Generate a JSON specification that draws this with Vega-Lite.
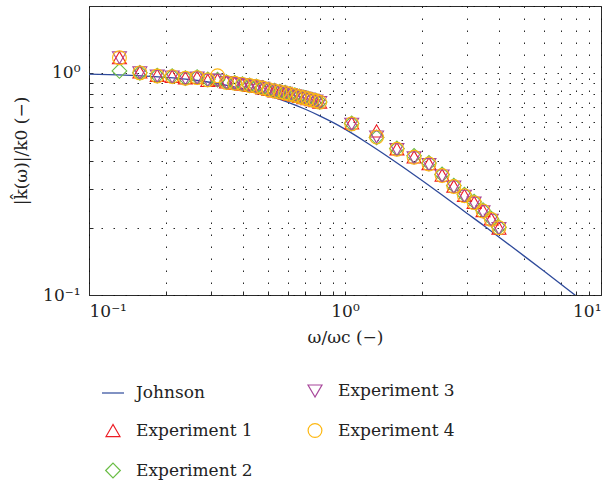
{
  "$schema": "https://vega.github.io/schema/vega-lite/v6.json",
  "width": 512,
  "height": 289,
  "autosize": {"type": "none"},
  "padding": {"left": 89, "top": 6, "right": 15, "bottom": 190},
  "background": "white",
  "config": {
    "view": {"stroke": "#2b2b2b", "strokeWidth": 1},
    "font": "DejaVu Serif",
    "axis": {
      "labelFont": "DejaVu Serif",
      "labelFontSize": 17,
      "labelColor": "#222",
      "titleFont": "DejaVu Serif",
      "titleFontSize": 17,
      "titleFontWeight": "normal",
      "titleColor": "#222",
      "grid": true,
      "gridColor": "#111",
      "gridDash": [1.5, 10.5],
      "gridWidth": 1,
      "gridOpacity": 0.9,
      "domain": false,
      "ticks": true,
      "tickSize": -4,
      "tickColor": "#2b2b2b",
      "tickWidth": 1,
      "labelOverlap": false,
      "labelBound": false
    },
    "legend": {
      "labelFont": "DejaVu Serif",
      "labelFontSize": 17,
      "labelColor": "#222"
    }
  },
  "datasets": {
    "johnson": [
      {"w": 0.1, "k": 0.988, "s": "Johnson"},
      {"w": 0.13, "k": 0.98, "s": "Johnson"},
      {"w": 0.16, "k": 0.97, "s": "Johnson"},
      {"w": 0.2, "k": 0.954, "s": "Johnson"},
      {"w": 0.25, "k": 0.931, "s": "Johnson"},
      {"w": 0.3, "k": 0.905, "s": "Johnson"},
      {"w": 0.35, "k": 0.877, "s": "Johnson"},
      {"w": 0.4, "k": 0.849, "s": "Johnson"},
      {"w": 0.5, "k": 0.792, "s": "Johnson"},
      {"w": 0.6, "k": 0.737, "s": "Johnson"},
      {"w": 0.7, "k": 0.686, "s": "Johnson"},
      {"w": 0.8, "k": 0.639, "s": "Johnson"},
      {"w": 0.9, "k": 0.597, "s": "Johnson"},
      {"w": 1.0, "k": 0.558, "s": "Johnson"},
      {"w": 1.2, "k": 0.49, "s": "Johnson"},
      {"w": 1.4, "k": 0.436, "s": "Johnson"},
      {"w": 1.7, "k": 0.374, "s": "Johnson"},
      {"w": 2.0, "k": 0.328, "s": "Johnson"},
      {"w": 2.5, "k": 0.272, "s": "Johnson"},
      {"w": 3.0, "k": 0.233, "s": "Johnson"},
      {"w": 3.5, "k": 0.2045, "s": "Johnson"},
      {"w": 4.0, "k": 0.182, "s": "Johnson"},
      {"w": 5.0, "k": 0.15, "s": "Johnson"},
      {"w": 6.0, "k": 0.1278, "s": "Johnson"},
      {"w": 7.0, "k": 0.1115, "s": "Johnson"},
      {"w": 8.0, "k": 0.099, "s": "Johnson"}
    ],
    "exp": [
      {"w": 0.1315, "k": 1.17, "s": "Experiment 1"},
      {"w": 0.158, "k": 1.01, "s": "Experiment 1"},
      {"w": 0.1847, "k": 0.975, "s": "Experiment 1"},
      {"w": 0.2113, "k": 0.965, "s": "Experiment 1"},
      {"w": 0.238, "k": 0.95, "s": "Experiment 1"},
      {"w": 0.2645, "k": 0.955, "s": "Experiment 1"},
      {"w": 0.291, "k": 0.925, "s": "Experiment 1"},
      {"w": 0.3177, "k": 0.93, "s": "Experiment 1"},
      {"w": 0.3443, "k": 0.91, "s": "Experiment 1"},
      {"w": 0.371, "k": 0.9, "s": "Experiment 1"},
      {"w": 0.3975, "k": 0.89, "s": "Experiment 1"},
      {"w": 0.424, "k": 0.879, "s": "Experiment 1"},
      {"w": 0.4507, "k": 0.869, "s": "Experiment 1"},
      {"w": 0.4773, "k": 0.856, "s": "Experiment 1"},
      {"w": 0.504, "k": 0.842, "s": "Experiment 1"},
      {"w": 0.5305, "k": 0.83, "s": "Experiment 1"},
      {"w": 0.557, "k": 0.822, "s": "Experiment 1"},
      {"w": 0.5837, "k": 0.813, "s": "Experiment 1"},
      {"w": 0.6103, "k": 0.803, "s": "Experiment 1"},
      {"w": 0.637, "k": 0.793, "s": "Experiment 1"},
      {"w": 0.6635, "k": 0.783, "s": "Experiment 1"},
      {"w": 0.69, "k": 0.774, "s": "Experiment 1"},
      {"w": 0.7167, "k": 0.766, "s": "Experiment 1"},
      {"w": 0.7433, "k": 0.757, "s": "Experiment 1"},
      {"w": 0.77, "k": 0.75, "s": "Experiment 1"},
      {"w": 0.7965, "k": 0.739, "s": "Experiment 1"},
      {"w": 1.062, "k": 0.595, "s": "Experiment 1"},
      {"w": 1.3285, "k": 0.548, "s": "Experiment 1"},
      {"w": 1.595, "k": 0.455, "s": "Experiment 1"},
      {"w": 1.8615, "k": 0.418, "s": "Experiment 1"},
      {"w": 2.128, "k": 0.39, "s": "Experiment 1"},
      {"w": 2.3945, "k": 0.346, "s": "Experiment 1"},
      {"w": 2.661, "k": 0.309, "s": "Experiment 1"},
      {"w": 2.9275, "k": 0.281, "s": "Experiment 1"},
      {"w": 3.194, "k": 0.261, "s": "Experiment 1"},
      {"w": 3.4605, "k": 0.24, "s": "Experiment 1"},
      {"w": 3.727, "k": 0.22, "s": "Experiment 1"},
      {"w": 3.9935, "k": 0.2, "s": "Experiment 1"},
      {"w": 0.1315, "k": 1.02, "s": "Experiment 2"},
      {"w": 0.158, "k": 1.0, "s": "Experiment 2"},
      {"w": 0.1847, "k": 0.972, "s": "Experiment 2"},
      {"w": 0.2113, "k": 0.966, "s": "Experiment 2"},
      {"w": 0.238, "k": 0.948, "s": "Experiment 2"},
      {"w": 0.2645, "k": 0.958, "s": "Experiment 2"},
      {"w": 0.291, "k": 0.935, "s": "Experiment 2"},
      {"w": 0.3177, "k": 0.932, "s": "Experiment 2"},
      {"w": 0.3443, "k": 0.908, "s": "Experiment 2"},
      {"w": 0.371, "k": 0.901, "s": "Experiment 2"},
      {"w": 0.3975, "k": 0.89, "s": "Experiment 2"},
      {"w": 0.424, "k": 0.879, "s": "Experiment 2"},
      {"w": 0.4507, "k": 0.87, "s": "Experiment 2"},
      {"w": 0.4773, "k": 0.857, "s": "Experiment 2"},
      {"w": 0.504, "k": 0.842, "s": "Experiment 2"},
      {"w": 0.5305, "k": 0.831, "s": "Experiment 2"},
      {"w": 0.557, "k": 0.823, "s": "Experiment 2"},
      {"w": 0.5837, "k": 0.814, "s": "Experiment 2"},
      {"w": 0.6103, "k": 0.804, "s": "Experiment 2"},
      {"w": 0.637, "k": 0.794, "s": "Experiment 2"},
      {"w": 0.6635, "k": 0.784, "s": "Experiment 2"},
      {"w": 0.69, "k": 0.775, "s": "Experiment 2"},
      {"w": 0.7167, "k": 0.767, "s": "Experiment 2"},
      {"w": 0.7433, "k": 0.758, "s": "Experiment 2"},
      {"w": 0.77, "k": 0.75, "s": "Experiment 2"},
      {"w": 0.7965, "k": 0.74, "s": "Experiment 2"},
      {"w": 1.062, "k": 0.592, "s": "Experiment 2"},
      {"w": 1.3285, "k": 0.512, "s": "Experiment 2"},
      {"w": 1.595, "k": 0.457, "s": "Experiment 2"},
      {"w": 1.8615, "k": 0.423, "s": "Experiment 2"},
      {"w": 2.128, "k": 0.393, "s": "Experiment 2"},
      {"w": 2.3945, "k": 0.349, "s": "Experiment 2"},
      {"w": 2.661, "k": 0.311, "s": "Experiment 2"},
      {"w": 2.9275, "k": 0.283, "s": "Experiment 2"},
      {"w": 3.194, "k": 0.263, "s": "Experiment 2"},
      {"w": 3.4605, "k": 0.241, "s": "Experiment 2"},
      {"w": 3.727, "k": 0.221, "s": "Experiment 2"},
      {"w": 3.9935, "k": 0.202, "s": "Experiment 2"},
      {"w": 0.1315, "k": 1.17, "s": "Experiment 3"},
      {"w": 0.158, "k": 1.0, "s": "Experiment 3"},
      {"w": 0.1847, "k": 0.966, "s": "Experiment 3"},
      {"w": 0.2113, "k": 0.958, "s": "Experiment 3"},
      {"w": 0.238, "k": 0.94, "s": "Experiment 3"},
      {"w": 0.2645, "k": 0.948, "s": "Experiment 3"},
      {"w": 0.291, "k": 0.927, "s": "Experiment 3"},
      {"w": 0.3177, "k": 0.926, "s": "Experiment 3"},
      {"w": 0.3443, "k": 0.903, "s": "Experiment 3"},
      {"w": 0.371, "k": 0.895, "s": "Experiment 3"},
      {"w": 0.3975, "k": 0.885, "s": "Experiment 3"},
      {"w": 0.424, "k": 0.874, "s": "Experiment 3"},
      {"w": 0.4507, "k": 0.865, "s": "Experiment 3"},
      {"w": 0.4773, "k": 0.852, "s": "Experiment 3"},
      {"w": 0.504, "k": 0.837, "s": "Experiment 3"},
      {"w": 0.5305, "k": 0.826, "s": "Experiment 3"},
      {"w": 0.557, "k": 0.818, "s": "Experiment 3"},
      {"w": 0.5837, "k": 0.809, "s": "Experiment 3"},
      {"w": 0.6103, "k": 0.799, "s": "Experiment 3"},
      {"w": 0.637, "k": 0.789, "s": "Experiment 3"},
      {"w": 0.6635, "k": 0.779, "s": "Experiment 3"},
      {"w": 0.69, "k": 0.77, "s": "Experiment 3"},
      {"w": 0.7167, "k": 0.762, "s": "Experiment 3"},
      {"w": 0.7433, "k": 0.753, "s": "Experiment 3"},
      {"w": 0.77, "k": 0.746, "s": "Experiment 3"},
      {"w": 0.7965, "k": 0.735, "s": "Experiment 3"},
      {"w": 1.062, "k": 0.587, "s": "Experiment 3"},
      {"w": 1.3285, "k": 0.514, "s": "Experiment 3"},
      {"w": 1.595, "k": 0.451, "s": "Experiment 3"},
      {"w": 1.8615, "k": 0.414, "s": "Experiment 3"},
      {"w": 2.128, "k": 0.386, "s": "Experiment 3"},
      {"w": 2.3945, "k": 0.343, "s": "Experiment 3"},
      {"w": 2.661, "k": 0.306, "s": "Experiment 3"},
      {"w": 2.9275, "k": 0.278, "s": "Experiment 3"},
      {"w": 3.194, "k": 0.259, "s": "Experiment 3"},
      {"w": 3.4605, "k": 0.237, "s": "Experiment 3"},
      {"w": 3.727, "k": 0.217, "s": "Experiment 3"},
      {"w": 3.9935, "k": 0.199, "s": "Experiment 3"},
      {"w": 0.1315, "k": 1.17, "s": "Experiment 4"},
      {"w": 0.158, "k": 1.0, "s": "Experiment 4"},
      {"w": 0.1847, "k": 0.968, "s": "Experiment 4"},
      {"w": 0.2113, "k": 0.962, "s": "Experiment 4"},
      {"w": 0.238, "k": 0.946, "s": "Experiment 4"},
      {"w": 0.2645, "k": 0.952, "s": "Experiment 4"},
      {"w": 0.291, "k": 0.93, "s": "Experiment 4"},
      {"w": 0.3177, "k": 0.97, "s": "Experiment 4"},
      {"w": 0.3443, "k": 0.906, "s": "Experiment 4"},
      {"w": 0.371, "k": 0.898, "s": "Experiment 4"},
      {"w": 0.3975, "k": 0.888, "s": "Experiment 4"},
      {"w": 0.424, "k": 0.877, "s": "Experiment 4"},
      {"w": 0.4507, "k": 0.868, "s": "Experiment 4"},
      {"w": 0.4773, "k": 0.855, "s": "Experiment 4"},
      {"w": 0.504, "k": 0.84, "s": "Experiment 4"},
      {"w": 0.5305, "k": 0.829, "s": "Experiment 4"},
      {"w": 0.557, "k": 0.821, "s": "Experiment 4"},
      {"w": 0.5837, "k": 0.812, "s": "Experiment 4"},
      {"w": 0.6103, "k": 0.802, "s": "Experiment 4"},
      {"w": 0.637, "k": 0.792, "s": "Experiment 4"},
      {"w": 0.6635, "k": 0.782, "s": "Experiment 4"},
      {"w": 0.69, "k": 0.773, "s": "Experiment 4"},
      {"w": 0.7167, "k": 0.765, "s": "Experiment 4"},
      {"w": 0.7433, "k": 0.756, "s": "Experiment 4"},
      {"w": 0.77, "k": 0.749, "s": "Experiment 4"},
      {"w": 0.7965, "k": 0.738, "s": "Experiment 4"},
      {"w": 1.062, "k": 0.589, "s": "Experiment 4"},
      {"w": 1.3285, "k": 0.514, "s": "Experiment 4"},
      {"w": 1.595, "k": 0.453, "s": "Experiment 4"},
      {"w": 1.8615, "k": 0.417, "s": "Experiment 4"},
      {"w": 2.128, "k": 0.389, "s": "Experiment 4"},
      {"w": 2.3945, "k": 0.345, "s": "Experiment 4"},
      {"w": 2.661, "k": 0.308, "s": "Experiment 4"},
      {"w": 2.9275, "k": 0.28, "s": "Experiment 4"},
      {"w": 3.194, "k": 0.2605, "s": "Experiment 4"},
      {"w": 3.4605, "k": 0.239, "s": "Experiment 4"},
      {"w": 3.727, "k": 0.219, "s": "Experiment 4"},
      {"w": 3.9935, "k": 0.201, "s": "Experiment 4"}
    ]
  },
  "layer": [
    {
      "data": {"name": "johnson"},
      "mark": {"type": "line", "clip": true, "strokeWidth": 1.3, "interpolate": "monotone"},
      "encoding": {
        "x": {
          "field": "w", "type": "quantitative",
          "scale": {"type": "log", "domain": [0.1, 10], "nice": false},
          "axis": {
            "title": "ω/ωc (−)",
            "values": [0.1, 0.2, 0.3, 0.4, 0.5, 0.6, 0.7, 0.8, 0.9, 1, 2, 3, 4, 5, 6, 7, 8, 9, 10],
            "labelExpr": "datum.value == 0.1 ? '10⁻¹' : datum.value == 1 ? '10⁰' : datum.value == 10 ? '10¹' : ''",
            "labelPadding": 12,
            "titlePadding": 10
          }
        },
        "y": {
          "field": "k", "type": "quantitative",
          "scale": {"type": "log", "domain": [0.1, 2], "nice": false},
          "axis": {
            "title": "|k̂(ω)|/k0 (−)",
            "values": [0.1, 0.2, 0.3, 0.4, 0.5, 0.6, 0.7, 0.8, 0.9, 1, 2],
            "labelExpr": "datum.value == 0.1 ? '10⁻¹' : datum.value == 1 ? '10⁰' : ''",
            "labelPadding": 13,
            "titlePadding": 12
          }
        },
        "color": {
          "field": "s", "type": "nominal",
          "scale": {
            "domain": ["Johnson", "Experiment 1", "Experiment 2", "Experiment 3", "Experiment 4"],
            "range": ["#2E4A9B", "#ED1C24", "#6ABD45", "#A8479B", "#FDB813"]
          },
          "legend": {
            "title": null, "orient": "none", "legendX": 12, "legendY": 375,
            "columns": 2, "rowPadding": 20, "columnPadding": 50, "labelOffset": 11,
            "symbolStrokeWidth": 1.2
          }
        }
      }
    },
    {
      "data": {"name": "exp"},
      "mark": {"type": "point", "filled": false, "strokeWidth": 1.1, "opacity": 1},
      "encoding": {
        "x": {"field": "w", "type": "quantitative", "scale": {"type": "log", "domain": [0.1, 10], "nice": false}},
        "y": {"field": "k", "type": "quantitative", "scale": {"type": "log", "domain": [0.1, 2], "nice": false}},
        "color": {
          "field": "s", "type": "nominal",
          "scale": {
            "domain": ["Johnson", "Experiment 1", "Experiment 2", "Experiment 3", "Experiment 4"],
            "range": ["#2E4A9B", "#ED1C24", "#6ABD45", "#A8479B", "#FDB813"]
          },
          "legend": {
            "title": null, "orient": "none", "legendX": 12, "legendY": 375,
            "columns": 2, "rowPadding": 20, "columnPadding": 50, "labelOffset": 11,
            "symbolStrokeWidth": 1.2
          }
        },
        "shape": {
          "field": "s", "type": "nominal",
          "scale": {
            "domain": ["Johnson", "Experiment 1", "Experiment 2", "Experiment 3", "Experiment 4"],
            "range": ["stroke", "triangle-up", "diamond", "triangle-down", "circle"]
          },
          "legend": {
            "title": null, "orient": "none", "legendX": 12, "legendY": 375,
            "columns": 2, "rowPadding": 20, "columnPadding": 50, "labelOffset": 11,
            "symbolStrokeWidth": 1.2
          }
        },
        "size": {
          "field": "s", "type": "nominal",
          "scale": {
            "type": "ordinal",
            "domain": ["Johnson", "Experiment 1", "Experiment 2", "Experiment 3", "Experiment 4"],
            "range": [484, 195, 215, 195, 190]
          },
          "legend": {
            "title": null, "orient": "none", "legendX": 12, "legendY": 375,
            "columns": 2, "rowPadding": 20, "columnPadding": 50, "labelOffset": 11,
            "symbolStrokeWidth": 1.2
          }
        }
      }
    }
  ]
}
